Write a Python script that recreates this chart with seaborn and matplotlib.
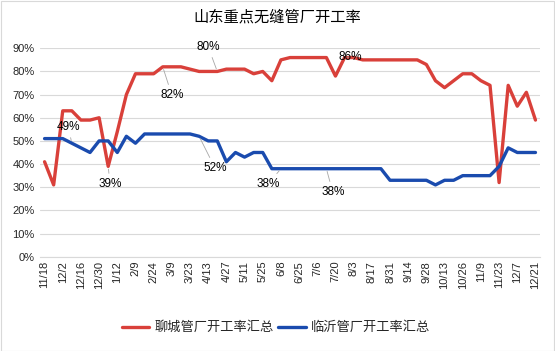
import matplotlib
matplotlib.use("Agg")
import matplotlib.pyplot as plt
import seaborn as sns
import pandas as pd
from matplotlib.ticker import PercentFormatter

# weekly dates (only every other one is shown on the axis)
dates = ["11/18", "11/25", "12/2", "12/9", "12/16", "12/23", "12/30", "1/6", "1/12", "1/19",
         "2/9", "2/16", "2/24", "3/2", "3/9", "3/16", "3/23", "3/30", "4/13", "4/20",
         "4/27", "5/4", "5/11", "5/18", "5/25", "6/1", "6/8", "6/15", "6/25", "6/29",
         "7/6", "7/13", "7/20", "7/27", "8/3", "8/10", "8/17", "8/24", "8/31", "9/7",
         "9/14", "9/21", "9/28", "10/6", "10/13", "10/19", "10/26", "11/2", "11/9", "11/16",
         "11/23", "11/30", "12/7", "12/14", "12/21"]

liaocheng = [41, 31, 63, 63, 59, 59, 60, 39, 54, 70,
             79, 79, 79, 82, 82, 82, 81, 80, 80, 80,
             81, 81, 81, 79, 80, 76, 85, 86, 86, 86,
             86, 86, 78, 86, 86, 85, 85, 85, 85, 85,
             85, 85, 83, 76, 73, 76, 79, 79, 76, 74,
             32, 74, 65, 71, 59]

linyi = [51, 51, 51, 49, 47, 45, 50, 50, 45, 52,
         49, 53, 53, 53, 53, 53, 53, 52, 50, 50,
         41, 45, 43, 45, 45, 38, 38, 38, 38, 38,
         38, 38, 38, 38, 38, 38, 38, 38, 33, 33,
         33, 33, 33, 31, 33, 33, 35, 35, 35, 35,
         39, 47, 45, 45, 45]

name_red = "聊城管厂开工率汇总"
name_blue = "临沂管厂开工率汇总"
red = "#D9403A"
blue = "#1A4BAE"

df = pd.DataFrame({"pos": range(len(dates)), "date": dates,
                   name_red: liaocheng, name_blue: linyi})
long = df.melt(id_vars=["pos", "date"], var_name="series", value_name="rate")

sns.set_style("white")
plt.rcParams["font.family"] = ["Liberation Sans", "Noto Sans CJK SC", "DejaVu Sans"]

fig = plt.figure(figsize=(5.55, 3.51), dpi=100)
ax = fig.add_axes([0.0721, 0.2687, 0.9009, 0.5937])

sns.lineplot(data=long, x="pos", y="rate", hue="series",
             palette={name_red: red, name_blue: blue}, linewidth=2.4,
             ax=ax, legend=True)

ax.set_xlim(-0.5, len(dates) - 0.5)
ax.set_ylim(0, 90)
ax.set_yticks(range(0, 91, 10))
ax.yaxis.set_major_formatter(PercentFormatter(decimals=0))
ax.set_xticks(range(0, len(dates), 2))
ax.set_xticklabels(dates[::2], rotation=90, fontsize=8, color="#262626")
ax.tick_params(axis="y", labelsize=8, colors="#262626", length=0, pad=4)
ax.tick_params(axis="x", length=0, pad=3)
ax.set_xlabel("")
ax.set_ylabel("")
ax.grid(axis="y", color="#d9d9d9", linewidth=0.8)
for s in ["top", "right", "left"]:
    ax.spines[s].set_visible(False)
ax.spines["bottom"].set_color("#d9d9d9")
ax.set_axisbelow(True)

# data labels with leader lines
lead = dict(arrowstyle="-", color="#a6a6a6", lw=0.6, shrinkA=1, shrinkB=2)
notes = [(3, linyi[3], 2.6, 56, "49%"),
         (7, liaocheng[7], 7.2, 31.4, "39%"),
         (13, liaocheng[13], 14.0, 69.8, "82%"),
         (19, liaocheng[19], 18.0, 90.6, "80%"),
         (17, linyi[17], 18.75, 38.3, "52%"),
         (26, linyi[26], 24.6, 31.4, "38%"),
         (31, linyi[31], 31.7, 27.9, "38%"),
         (33, liaocheng[33], 33.6, 86.3, "86%")]
for px, py, tx, ty, txt in notes:
    ax.annotate(txt, xy=(px, py), xytext=(tx, ty), ha="center", va="center",
                fontsize=8.5, color="#000000", arrowprops=lead, annotation_clip=False)

fig.text(0.5, 0.951, "山东重点无缝管厂开工率", ha="center", va="center",
         fontsize=11, color="#000000")

ax.legend_.remove()
fig.legend(*ax.get_legend_handles_labels(), loc="center", bbox_to_anchor=(0.497, 0.066),
           ncol=2, frameon=False, fontsize=9.5, handlelength=2.1, columnspacing=0.3,
           handletextpad=0.4)

fig.patches.append(plt.Rectangle((0.001, 0.001), 0.997, 0.997, transform=fig.transFigure,
                                 fill=False, edgecolor="#d9d9d9", linewidth=0.8))

fig.savefig("out.png", dpi=100, facecolor="white")
